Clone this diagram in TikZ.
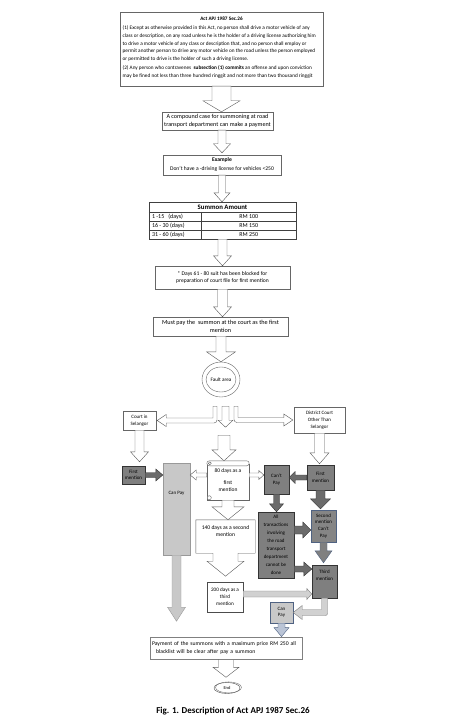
\documentclass[tikz,border=0pt]{standalone}
\usepackage{fontspec}
\setmainfont{Carlito}
\usetikzlibrary{positioning,calc,shapes.geometric}

\definecolor{darkfill}{RGB}{127,127,127}
\definecolor{slate}{RGB}{79,98,130}
\definecolor{lightfill}{RGB}{200,200,200}
\definecolor{paleblue}{RGB}{186,196,214}

% block arrow: [style]{from}{to}{shaft half width}{head half width}{head length}
\newcommand{\barrow}[6][]{%
  \coordinate (ba) at (#2); \coordinate (bb) at (#3);
  \coordinate (bh) at ($(bb)!#6pt!(ba)$);
  \draw[#1] ($(ba)!#4pt!90:(bb)$) -- ($(bh)!#4pt!-90:(ba)$) -- ($(bh)!#5pt!-90:(ba)$)
    -- (bb) -- ($(bh)!#5pt!90:(ba)$) -- ($(bh)!#4pt!90:(ba)$) -- ($(ba)!#4pt!-90:(bb)$) -- cycle;}

\begin{document}
\begin{tikzpicture}[x=1pt, y=-1pt, font=\fontsize{5.6}{7}\selectfont,
    box/.style={draw=black!60, fill=white, inner sep=0pt, align=center},
    dark/.style={draw=black!80, fill=darkfill, inner sep=0pt, align=center, font=\fontsize{5}{6.5}\selectfont},
    hollow/.style={draw=black!65, fill=white},
    darkarr/.style={draw=black!80, fill=black!58},
    lightarr/.style={draw=black!50, fill=black!18},
    bluearr/.style={draw=slate, fill=paleblue}]

    \useasboundingbox (0,0) rectangle (470,722);

    % the act
    \node[box, minimum width=203, minimum height=74] (act) at (221.5,49) {};
    \node[font=\fontsize{5.2}{6}\selectfont\bfseries, below=1.5pt of act.north] (acttitle) {Act APJ 1987 Sec.26};
    \node[anchor=north west, align=left, inner sep=0pt, font=\fontsize{5.25}{7.8}\selectfont] (sub1) at (122.5,25.5)
        {(1) Except as otherwise provided in this Act, no person shall drive a motor vehicle of any\\
         class or description, on any road unless he is the holder of a driving license authorizing him\\
         to drive a motor vehicle of any class or description that, and no person shall employ or\\
         permit another person to drive any motor vehicle on the road unless the person employed\\
         or permitted to drive is the holder of such a driving license.};
    \node[below=3.5pt of sub1.south west, anchor=north west, align=left, inner sep=0pt, font=\fontsize{5.25}{8.4}\selectfont] (sub2)
        {(2) Any person who contravenes \ \textbf{subsection (1) commits} an offense and upon conviction\\
         may be fined not less than three hundred ringgit and not more than two thousand ringgit};

    % main column
    \node[box, minimum width=111, minimum height=18, font=\fontsize{6.1}{7.5}\selectfont] (comp) at (217.5,121)
        {A compound case for summoning at road\\transport department can make a payment};
    \node[box, minimum width=118, minimum height=20] (example) at (222,165)
        {\textbf{Example}\\[2pt]Don't have a -driving license for vehicles <250};

    \node[box, draw=black!75, minimum width=147, minimum height=37] (tbl) at (222.5,220.5) {};
    \foreach \y in {10,19,28}
        \draw[black!75] ($(tbl.north west)+(0,\y)$) -- ($(tbl.north east)+(0,\y)$);
    \draw[black!75] ($(tbl.north west)+(52,10)$) -- ($(tbl.south west)+(52,0)$);
    \node[font=\fontsize{6.8}{7}\selectfont\bfseries] (tblhead) at ($(tbl.north)+(0,5)$) {Summon Amount};
    \foreach \d/\a/\y in {{1 -15\ \ \ (days)}/{RM 100}/14.5, {16 - 30 (days)}/{RM 150}/23.5, {31 - 60 (days)}/{RM 250}/32.5}
    {
        \node[anchor=west, inner sep=0pt, font=\fontsize{6}{7}\selectfont] at ($(tbl.north west)+(3,\y)$) {\d};
        \node[inner sep=0pt, font=\fontsize{6}{7}\selectfont] at ($(tbl.north west)+(100,\y)$) {\a};
    }

    \node[box, minimum width=135, minimum height=23] (days) at (222.5,277.5)
        {* Days 61 - 80 suit has been blocked for\\preparation of court file for first mention};
    \node[box, minimum width=135, minimum height=19, font=\fontsize{6.2}{7.5}\selectfont] (must) at (220.5,326.5)
        {Must pay the \ summon at the court as the first\\mention};
    \node[draw=black!60, ellipse, minimum width=38, minimum height=35, inner sep=0pt, font=\fontsize{5.2}{6}\selectfont] (fault) at (221,379.5) {Fault area};
    \draw[black!60] (fault.center) ellipse [x radius=15pt, y radius=12.5pt];

    % courts
    \node[box, minimum width=33, minimum height=19, font=\fontsize{5}{6.5}\selectfont] (cis) at (139.5,420.5) {Court in\\Selangor};
    \node[box, minimum width=51, minimum height=26, font=\fontsize{5}{7}\selectfont] (dcots) at (319.5,420) {District Court\\Other Than\\Selangor};

    % mentions
    \node[dark, minimum width=23, minimum height=18] (fm1) at (133.5,475) {First\\mention};
    \node[draw=black!40, fill=lightfill, minimum width=27, minimum height=92] (canpay) at (176.5,509) {};
    \node[font=\fontsize{5}{6}\selectfont, below=25pt of canpay.north] (canpaytxt) {Can Pay};

    \node[minimum width=42, minimum height=39, inner sep=0pt] (scroll) at (228,480.5) {};
    \draw[black!60, fill=white] ([yshift=-3pt]scroll.north west) rectangle (scroll.south east);
    \draw[black!60, fill=white, rounded corners=2.5pt] (scroll.north west) rectangle ($(scroll.north east)+(0,5)$);
    \draw[black!60] ($(scroll.north west)+(3,2.5)$) circle (1.5pt);
    \draw[black!60, fill=white] ($(scroll.south west)+(2.5,-2.5)$) circle (2pt);
    \node[align=center, font=\fontsize{5.5}{7}\selectfont] (scrolltxt) at (scroll) {80 days as a\\[5pt]first\\mention};

    \node[dark, minimum width=25, minimum height=29] (cantpay) at (276.5,479.5) {Can't\\Pay};
    \node[dark, minimum width=27, minimum height=25] (fm2) at (320.5,477.5) {First\\mention};
    \node[dark, minimum width=36, minimum height=66, font=\fontsize{5}{8}\selectfont] (all) at (276,545)
        {All\\transactions\\involving\\the road\\transport\\department\\cannot be\\done};
    \node[dark, draw=slate, fill=black!48, minimum width=25, minimum height=32, font=\fontsize{5}{6.7}\selectfont] (sm) at (323.5,526)
        {Second\\mention\\Can't\\Pay};
    \node[dark, minimum width=25, minimum height=33] (tm) at (324.5,581.5) {};
    \node[font=\fontsize{5}{7}\selectfont, align=center, below=2pt of tm.north] (tmtxt) {Third\\mention};

    \node[minimum width=59, minimum height=33, inner sep=0pt] (d140) at (225.5,536.5) {};
    \draw[black!65, fill=white] (d140.north west) -- (d140.north east) -- (d140.south east)
        -- ($(d140.south)+(12.5,0)$) -- ($(d140.south)+(12.5,8)$) -- ($(d140.south)+(18.5,8)$)
        -- ($(d140.south)+(0,23)$) -- ($(d140.south)+(-18.5,8)$) -- ($(d140.south)+(-12.5,8)$)
        -- ($(d140.south)+(-12.5,0)$) -- (d140.south west) -- cycle;
    \node[align=center, font=\fontsize{5.6}{7.5}\selectfont, below=2pt of d140.north] (d140txt) {140 days as a second\\mention};
    \node[box, draw=black!70, minimum width=36, minimum height=30, font=\fontsize{5.2}{7}\selectfont] (d200) at (225,597) {200 days as a\\third\\mention};

    \node[draw=slate, fill=lightfill, minimum width=23, minimum height=21, inner sep=0pt, align=center, font=\fontsize{5}{6.5}\selectfont] (cp2) at (281.5,612.5) {Can\\Pay};

    \node[box, draw=black!50, line width=0.8pt, text width=148pt, inner sep=2pt, minimum height=22, align=left, font=\fontsize{5.7}{8}\selectfont] (pay) at (226,648)
        {Payment of the summons with a maximum price RM 250 all\\\hspace*{4pt}blacklist will be clear after pay a summon};
    \node[draw=black!70, ellipse, minimum width=26, minimum height=11, inner sep=0pt, font=\fontsize{4.5}{5}\selectfont] (endn) at (227,688) {End};
    \draw[black!55] ([xshift=1.5pt,yshift=0.6pt]endn.center) ellipse [x radius=13pt, y radius=5.5pt];

    \node[font=\fontsize{9}{10}\selectfont\bfseries] (caption) at (233,711) {Fig. 1. Description of Act APJ 1987 Sec.26};

    % arrows down the main column
    \barrow[hollow]{act.south}{act.south |- comp.north}{9.5}{18.5}{11}
    \barrow[hollow]{example.north |- comp.south}{[yshift=2pt]example.north}{4}{8.5}{9}
    \barrow[hollow]{example.south}{example.south |- tbl.north}{3.5}{8}{9}
    \barrow[hollow]{tbl.south}{tbl.south |- days.north}{4.5}{9}{10}
    \barrow[hollow]{days.south}{days.south |- must.north}{5}{9}{10}
    \barrow[hollow]{fault.north |- must.south}{fault.north}{5}{14.5}{10}

    % split below the fault area
    \coordinate (split) at ($(fault.south)+(0,9)$);
    \draw[hollow] let \p1=(split), \p2=(cis.east) in
        (\x1-8pt,\y1) -- (\x1-8pt,\y2+2.5pt) -- (\x2+10pt,\y2+2.5pt) -- (\x2+10pt,\y2+6pt) -- (\x2+1pt,\y2)
        -- (\x2+10pt,\y2-6pt) -- (\x2+10pt,\y2-2.5pt) [rounded corners=3pt] -- (\x1-4pt,\y2-2.5pt) [sharp corners] -- (\x1-4pt,\y1) -- cycle;
    \draw[hollow] let \p1=(split), \p2=(dcots.west) in
        (\x1+17pt,\y1) -- (\x1+17pt,\y2+2.5pt) -- (\x2-10pt,\y2+2.5pt) -- (\x2-10pt,\y2+6pt) -- (\x2-1pt,\y2)
        -- (\x2-10pt,\y2-6pt) -- (\x2-10pt,\y2-2.5pt) [rounded corners=3pt] -- (\x1+13pt,\y2-2.5pt) [sharp corners] -- (\x1+13pt,\y1) -- cycle;
    \barrow[hollow]{$(split)+(4.5,0)$}{$(split)+(4.5,21)$}{3.5}{7.5}{7}
    \coordinate (gap) at ($(split)+(3,29)$);
    \barrow[hollow]{gap}{gap |- scroll.north}{6}{12}{11}

    % courts to first mention
    \barrow[hollow]{cis.south}{$(cis.south |- fm1.north)+(0,-4)$}{4.5}{9}{10}
    \barrow[hollow]{dcots.south}{$(dcots.south |- fm2.north)+(0,-1)$}{5}{9.5}{11}

    % mentions
    \barrow[hollow]{$(scroll.west)+(0,-5.5)$}{$(scroll.west -| canpay.east)+(0,-5.5)$}{2}{5}{6}
    \barrow[darkarr]{fm1.east}{fm1.east -| canpay.west}{2.5}{6}{7}
    \barrow[hollow]{$(scroll.east)+(0,-5.5)$}{$(scroll.east -| cantpay.west)+(0,-5.5)$}{2}{4.5}{5}
    \barrow[darkarr]{fm2.west}{fm2.west -| cantpay.east}{2.5}{6}{6}
    \barrow[darkarr]{cantpay.south}{cantpay.south |- all.north}{3}{7}{8}
    \barrow[darkarr]{$(all.east)+(0,-15)$}{$(all.east -| sm.west)+(0,-15)$}{4}{8}{8}
    \barrow[darkarr]{$(all.east)+(0,24)$}{$(all.east -| tm.west)+(0,24)$}{3}{7}{8}
    \barrow[darkarr]{fm2.south}{$(fm2.south |- sm.north)+(0,-1)$}{4.5}{10}{10}
    \barrow[bluearr, fill=black!50]{sm.south}{$(sm.south |- tm.north)+(0,-2)$}{3.5}{8.5}{12}
    \barrow[hollow]{scroll.south}{scroll.south |- d140.north}{6}{16}{13}
    \barrow[lightarr]{$(d200.east)+(0,-3)$}{$(d200.east -| tm.west)+(0,-3)$}{3}{5.5}{5}
    \draw[lightarr] let \p1=(tm.south), \p2=(cp2.east) in
        (\x1-3pt,\y1) -- (\x1-3pt,\y2+3pt) -- (\x2+9pt,\y2+3pt) -- (\x2+9pt,\y2+7pt) -- (\p2)
        -- (\x2+9pt,\y2-7pt) -- (\x2+9pt,\y2-3pt) [rounded corners=2pt] -- (\x1+3pt,\y2-3pt) [sharp corners] -- (\x1+3pt,\y1) -- cycle;

    % to the payment and the end
    \barrow[draw=black!40, fill=lightfill]{canpay.south}{$(canpay.south)+(0,66)$}{4.5}{9}{14}
    \barrow[bluearr]{cp2.south}{cp2.south |- pay.north}{3.5}{7.5}{9}
    \barrow[hollow]{pay.south}{$(pay.south |- endn.north)+(0,-5)$}{7.5}{13}{10}
\end{tikzpicture}
\end{document}
